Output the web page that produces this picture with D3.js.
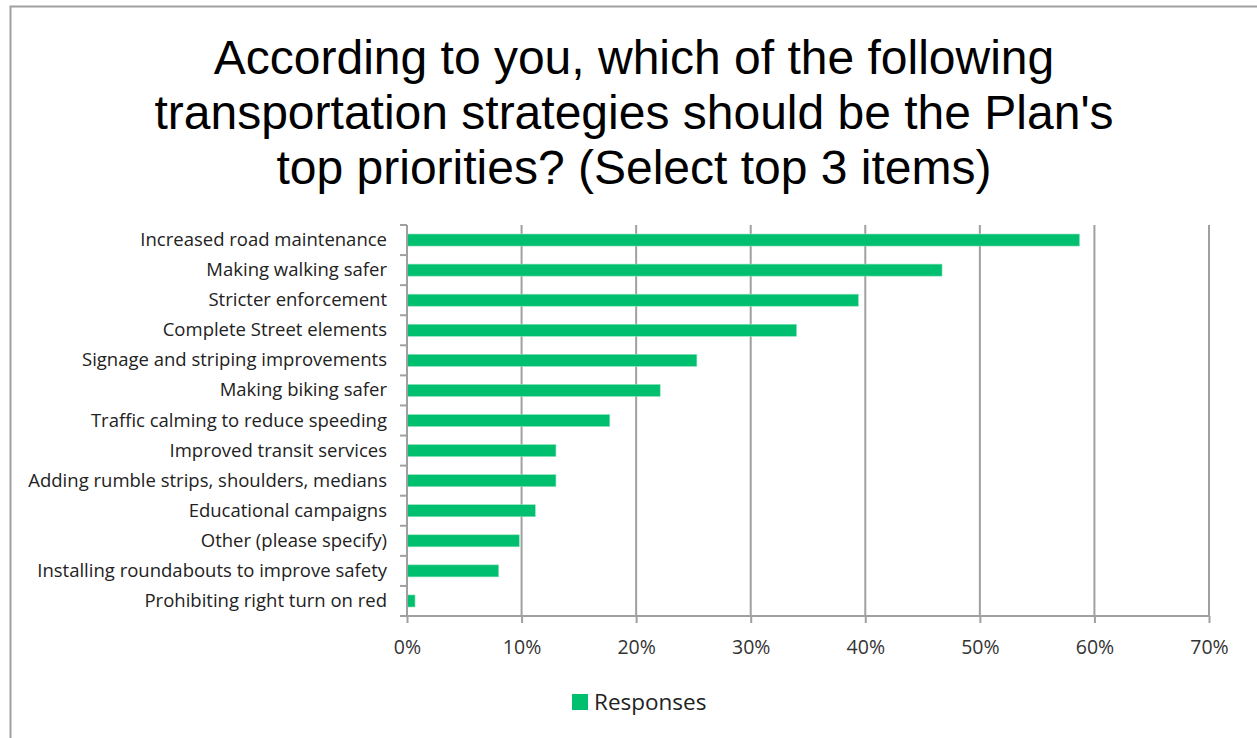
<!DOCTYPE html>
<html><head><meta charset="utf-8">
<script src="https://cdn.jsdelivr.net/npm/d3@7"></script>
<style>body{margin:0;background:#fff} svg{display:block}</style>
</head><body><svg id="c" width="1257" height="738"></svg>
<script>
const categories = [
  "Increased road maintenance",
  "Making walking safer",
  "Stricter enforcement",
  "Complete Street elements",
  "Signage and striping improvements",
  "Making biking safer",
  "Traffic calming to reduce speeding",
  "Improved transit services",
  "Adding rumble strips, shoulders, medians",
  "Educational campaigns",
  "Other (please specify)",
  "Installing roundabouts to improve safety",
  "Prohibiting right turn on red"
];
const values = [0.587, 0.467, 0.394, 0.340, 0.253, 0.221, 0.177, 0.130, 0.130, 0.112, 0.098, 0.080, 0.007];
const tickValues = [0, 0.1, 0.2, 0.3, 0.4, 0.5, 0.6, 0.7];
const titleLines = [
  "According to you, which of the following",
  "transportation strategies should be the Plan's",
  "top priorities? (Select top 3 items)"
];
const seriesName = "Responses";

const svg = d3.select("#c");
const green = "#00bf6f";
const grid = "#a0a0a0";
const labelFont = "'Open Sans', Lato, sans-serif";

// outer border
svg.append("rect").attr("x", 10.5).attr("y", 6.5).attr("width", 1260).attr("height", 760)
  .attr("fill", "none").attr("stroke", grid).attr("stroke-width", 2);

// title
svg.append("g").selectAll("text").data(titleLines).join("text")
  .attr("x", 634).attr("y", (d, i) => 74 + i * 55)
  .attr("text-anchor", "middle")
  .attr("font-family", "'Liberation Sans', Arial, sans-serif")
  .attr("font-size", 48)
  .attr("fill", "#000")
  .text(d => d);

const x = d3.scaleLinear().domain([0, 0.7]).range([407, 1209]);
const y = d3.scaleBand().domain(categories).range([225, 616]).paddingInner(0.6).paddingOuter(0.3);

// gridlines
svg.append("g").selectAll("line").data(tickValues.slice(1)).join("line")
  .attr("x1", d => x(d)).attr("x2", d => x(d))
  .attr("y1", 225).attr("y2", 616)
  .attr("stroke", grid).attr("stroke-width", 2);

// bars
svg.append("g").selectAll("rect").data(values).join("rect")
  .attr("x", x(0))
  .attr("y", (d, i) => y(categories[i]))
  .attr("width", d => x(d) - x(0))
  .attr("height", y.bandwidth())
  .attr("fill", green)
  .attr("stroke", "#8fe3bd").attr("stroke-width", 0.6);

// x axis
const xAxis = d3.axisBottom(x).tickValues(tickValues).tickFormat(d3.format(".0%")).tickSize(7).tickSizeOuter(0);
const gx = svg.append("g").attr("transform", "translate(0,616)").call(xAxis);
gx.select(".domain").attr("stroke", grid).attr("stroke-width", 2).attr("d", "M400,0H1209");
gx.selectAll(".tick line").attr("stroke", grid).attr("stroke-width", 2);
gx.selectAll(".tick text").attr("font-family", labelFont).attr("font-size", 19.5).attr("fill", "#333").attr("dy", "0").attr("y", 38);

// y axis (ticks at band boundaries)
const step = y.step();
const bounds = d3.range(categories.length + 1).map(i => 225 + i * step);
const gy = svg.append("g");
gy.append("line").attr("x1", 407).attr("x2", 407).attr("y1", 225).attr("y2", 616)
  .attr("stroke", grid).attr("stroke-width", 2);
gy.selectAll("line.t").data(bounds).join("line").attr("class", "t")
  .attr("x1", 400).attr("x2", 407).attr("y1", d => d).attr("y2", d => d)
  .attr("stroke", grid).attr("stroke-width", 2);
gy.selectAll("text").data(categories).join("text")
  .attr("x", 387).attr("y", d => y(d) + y.bandwidth() / 2 + 6)
  .attr("text-anchor", "end")
  .attr("font-family", labelFont).attr("font-size", 18.5).attr("fill", "#222")
  .text(d => d);

// legend
svg.append("rect").attr("x", 572).attr("y", 694).attr("width", 16).attr("height", 16).attr("fill", green);
svg.append("text").attr("x", 594).attr("y", 710).attr("font-family", labelFont).attr("font-size", 22.5).attr("fill", "#222").text(seriesName);
</script></body></html>
